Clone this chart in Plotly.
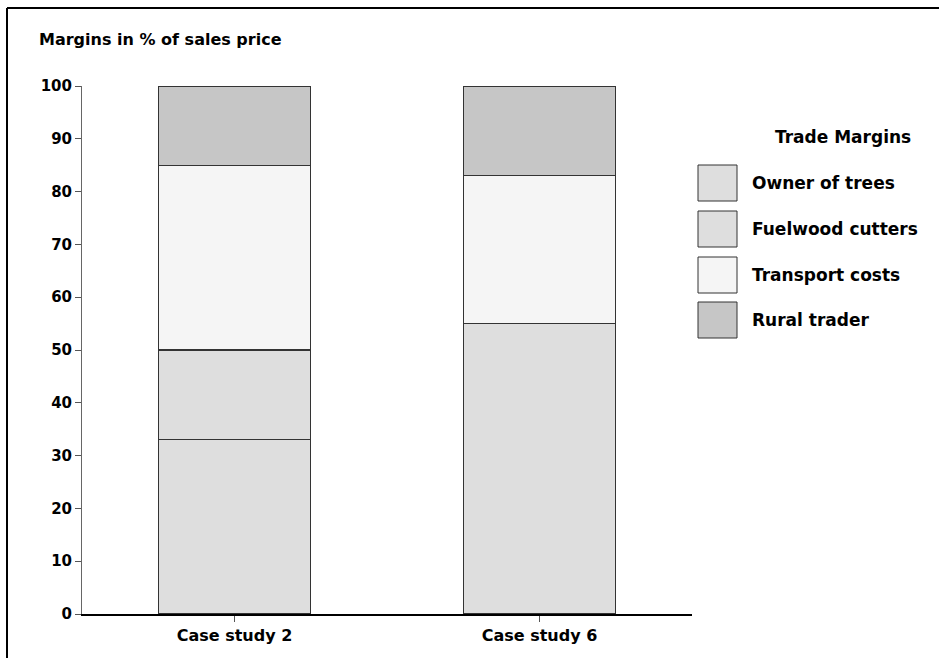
import plotly.graph_objects as go

categories = ["Case study 2", "Case study 6"]
series_names = ["Owner of trees", "Fuelwood cutters", "Transport costs", "Rural trader"]
owner = [33, 55]
cutters = [17, 0]
transport = [35, 28]
rural = [15, 17]
series_values = [owner, cutters, transport, rural]
colors = ["#dedede", "#dedede", "#f5f5f5", "#c6c6c6"]
y_ticks = list(range(0, 101, 10))

W, H = 939, 658
L, R, T, B = 82, 247, 86, 44
pw, ph = W - L - R, H - T - B

def px_x(x):
    return (x - L) / pw

def px_y(y):
    return (H - B - y) / ph

fig = go.Figure()
for name, vals, c in zip(series_names, series_values, colors):
    fig.add_trace(go.Bar(
        x=categories, y=vals, name=name, width=0.5,
        marker=dict(color=c, line=dict(color="#333333", width=1.2)),
        showlegend=False,
    ))

FONT = "DejaVu Sans, Verdana, Arial"
shapes = []
annotations = []
# frame (top and left edges)
shapes.append(dict(type="line", xref="paper", yref="paper", x0=px_x(7), x1=px_x(W + 5), y0=px_y(8), y1=px_y(8),
                   line=dict(color="black", width=2)))
shapes.append(dict(type="line", xref="paper", yref="paper", x0=px_x(7), x1=px_x(7), y0=px_y(8), y1=px_y(H + 5),
                   line=dict(color="black", width=2)))

# legend
annotations.append(dict(text="<b>Trade Margins</b>", xref="paper", yref="paper", x=px_x(843), y=px_y(137),
                        xanchor="center", yanchor="middle", showarrow=False,
                        font=dict(family=FONT, size=17, color="black")))
box_tops = [165, 211, 257, 302]
for name, c, top in zip(series_names, colors, box_tops):
    shapes.append(dict(type="rect", xref="paper", yref="paper", x0=px_x(698), x1=px_x(737),
                       y0=px_y(top), y1=px_y(top + 36), fillcolor=c, line=dict(color="#333333", width=1)))
    annotations.append(dict(text="<b>%s</b>" % name, xref="paper", yref="paper", x=px_x(750), y=px_y(top + 18),
                            xanchor="left", yanchor="middle", showarrow=False,
                            font=dict(family=FONT, size=17, color="black")))

annotations.append(dict(text="<b>Margins in % of sales price</b>", xref="paper", yref="paper",
                        x=px_x(37), y=px_y(40), xanchor="left", yanchor="middle", showarrow=False,
                        font=dict(family=FONT, size=16, color="black")))

fig.update_layout(
    barmode="stack",
    width=W, height=H,
    margin=dict(l=L, r=R, t=T, b=B),
    paper_bgcolor="white", plot_bgcolor="white",
    shapes=shapes, annotations=annotations,
    bargap=0.5,
    xaxis=dict(range=[-0.5, 1.5], showline=True, linecolor="black", linewidth=1.5,
               ticks="outside", ticklen=6, tickcolor="#555555", showgrid=False,
               tickfont=dict(family=FONT, size=16, color="black"),
               ticktext=["<b>%s</b>" % c for c in categories], tickvals=categories),
    yaxis=dict(range=[0, 100], tickvals=y_ticks, showline=True, linecolor="#666666", linewidth=1,
               ticks="outside", ticklen=6, tickcolor="#555555", showgrid=False, zeroline=False,
               ticktext=["<b>%d</b>" % v for v in y_ticks],
               tickfont=dict(family=FONT, size=15, color="black")),
)

fig.write_html("out.html")
